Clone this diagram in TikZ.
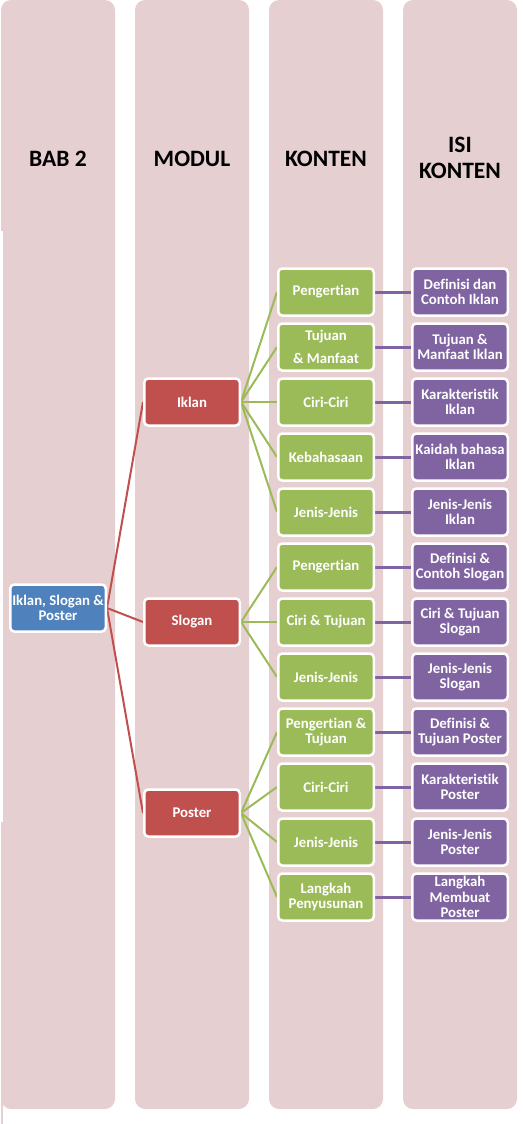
\documentclass[tikz,border=0pt]{standalone}
\usepackage{fontspec}
\setmainfont{Carlito}[Ligatures=NoCommon]
\definecolor{colbg}{RGB}{230,207,208}
\definecolor{cblue}{RGB}{79,129,189}
\definecolor{cred}{RGB}{192,80,77}
\definecolor{cgreen}{RGB}{155,187,89}
\definecolor{cpurple}{RGB}{128,100,162}
\pgfdeclarelayer{back}
\pgfdeclarelayer{mid}
\pgfsetlayers{back,mid,main}
\tikzset{
  colrect/.style={fill=colbg, draw=none, rounded corners=10pt},
  header/.style={font=\fontsize{23.5}{26}\selectfont\bfseries, align=center, text=black},
  boxbase/.style={rounded corners=4pt, draw=white, line width=2.5pt, minimum width=95.5pt, minimum height=47pt, inner sep=0pt, text=white, align=center, font=\fontsize{14.8}{15.3}\selectfont\bfseries},
  bluebox/.style={boxbase, fill=cblue},
  redbox/.style={boxbase, fill=cred},
  greenbox/.style={boxbase, fill=cgreen},
  purplebox/.style={boxbase, fill=cpurple},
  redline/.style={draw=cred, line width=2pt},
  greenline/.style={draw=cgreen, line width=2pt},
  purpleline/.style={draw=cpurple, line width=3pt},
}
\begin{document}
\begin{tikzpicture}[x=1pt, y=-1pt]
\useasboundingbox (0,0) rectangle (522,1124);
% columns
\begin{pgfonlayer}{back}
\fill[colrect] (1,0) rectangle (115,1109);
\fill[colrect] (135,0) rectangle (249,1109);
\fill[colrect] (269,0) rectangle (383,1109);
\fill[colrect] (403,0) rectangle (517,1109);
\fill[white] (0,231) rectangle (3,822);
\fill[colbg] (1,1095) rectangle (3,1124);
\end{pgfonlayer}
% headers
\node[header] (h1) at (58,159) {BAB 2};
\node[header] (h2) at (192,159) {MODUL};
\node[header] (h3) at (326,159) {KONTEN};
\node[header] (h4) at (460,158) {ISI\\KONTEN};
% level 1
\node[bluebox] (root) at (58,608) {Iklan, Slogan \&\\Poster};
% level 2
\node[redbox] (iklan) at (192,402) {Iklan};
\node[redbox] (slogan) at (192,622) {Slogan};
\node[redbox] (poster) at (192,813) {Poster};
% level 3
\node[greenbox] (g1) at (326,292) {Pengertian};
\node[greenbox] (g2) at (326,347) {Tujuan\\[7pt]\& Manfaat};
\node[greenbox] (g3) at (326,402) {Ciri-Ciri};
\node[greenbox] (g4) at (326,457) {Kebahasaan};
\node[greenbox] (g5) at (326,512) {Jenis-Jenis};
\node[greenbox] (g6) at (326,567) {Pengertian};
\node[greenbox] (g7) at (326,622) {Ciri \& Tujuan};
\node[greenbox] (g8) at (326,677) {Jenis-Jenis};
\node[greenbox] (g9) at (326,732) {Pengertian \&\\Tujuan};
\node[greenbox] (g10) at (326,787) {Ciri-Ciri};
\node[greenbox] (g11) at (326,842) {Jenis-Jenis};
\node[greenbox] (g12) at (326,897) {Langkah\\Penyusunan};
% level 4
\node[purplebox] (p1) at (460,292) {Definisi dan\\Contoh Iklan};
\node[purplebox] (p2) at (460,347) {Tujuan \&\\Manfaat Iklan};
\node[purplebox] (p3) at (460,402) {Karakteristik\\Iklan};
\node[purplebox] (p4) at (460,457) {Kaidah bahasa\\Iklan};
\node[purplebox] (p5) at (460,512) {Jenis-Jenis\\Iklan};
\node[purplebox] (p6) at (460,567) {Definisi \&\\Contoh Slogan};
\node[purplebox] (p7) at (460,622) {Ciri \& Tujuan\\Slogan};
\node[purplebox] (p8) at (460,677) {Jenis-Jenis\\Slogan};
\node[purplebox] (p9) at (460,732) {Definisi \&\\Tujuan Poster};
\node[purplebox] (p10) at (460,787) {Karakteristik\\Poster};
\node[purplebox] (p11) at (460,842) {Jenis-Jenis\\Poster};
\node[purplebox] (p12) at (460,897) {Langkah\\Membuat\\Poster};
% connectors
\begin{pgfonlayer}{mid}
\foreach \m in {iklan,slogan,poster}
  \draw[redline] (root.east) -- (\m.west);
\foreach \g in {g1,g2,g3,g4,g5}
  \draw[greenline] (iklan.east) -- (\g.west);
\foreach \g in {g6,g7,g8}
  \draw[greenline] (slogan.east) -- (\g.west);
\foreach \g in {g9,g10,g11,g12}
  \draw[greenline] (poster.east) -- (\g.west);
\foreach \i in {1,...,12}
  \draw[purpleline] (g\i.east) -- (p\i.west);
\end{pgfonlayer}
\end{tikzpicture}
\end{document}
